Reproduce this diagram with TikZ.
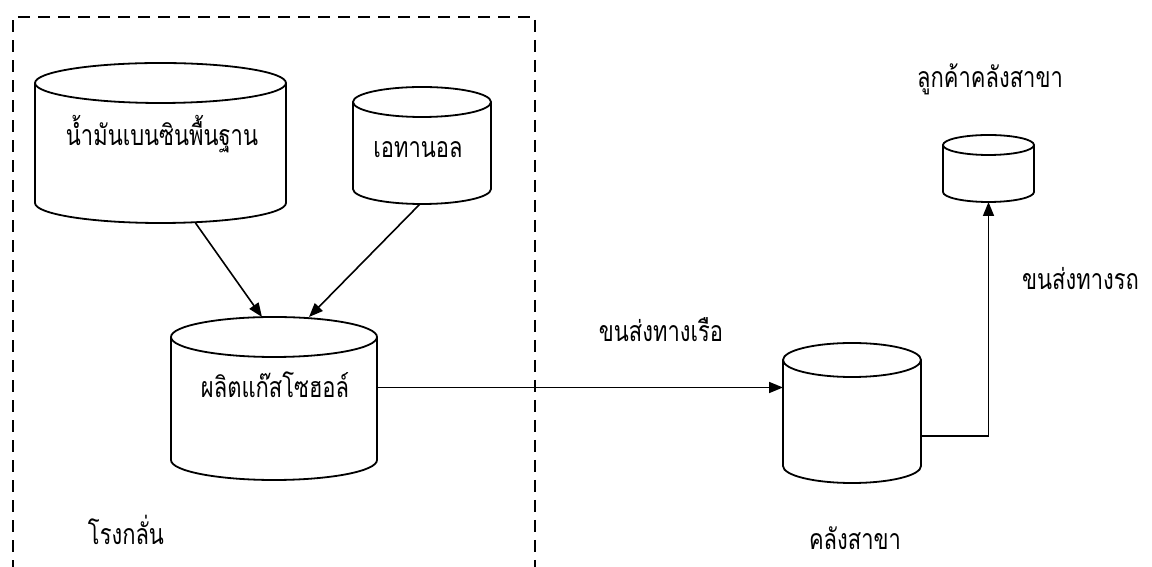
\documentclass[tikz,border=0pt]{standalone}
\usepackage{fontspec}
\newfontfamily\thaifont[Script=Thai,FakeStretch=0.77]{Loma}
\usetikzlibrary{arrows.meta,calc}
\tikzset{
  cylbox/.style={rectangle,inner sep=0pt,outer sep=0pt},
  cylline/.style={line width=1.8pt,black},
  lbl/.style={font=\thaifont\fontsize{28.5}{31}\selectfont,inner sep=0pt,anchor=base},
  conn/.style={line width=1.6pt,-{Triangle[length=14pt,width=11pt]}},
  frame/.style={line width=1.5pt,dash pattern=on 12pt off 8pt}
}
\newcommand\cylpaint[3]{%
  \draw[cylline] ([yshift=-#3]#1.north west) -- ([yshift=#3]#1.south west)
     arc[start angle=180,end angle=360,x radius=#2,y radius=#3]
     -- ([yshift=-#3]#1.north east);
  \draw[cylline] ([yshift=-#3]#1.north) ellipse [x radius=#2,y radius=#3];
}
\begin{document}
\begin{tikzpicture}[x=1pt,y=1pt]
\useasboundingbox[fill=white] (0,0) rectangle (1152,567);
% refinery frame
\draw[frame] (13,-5) -- (13,550) -- (535,550) -- (535,-5);
% cylinders
\node[cylbox,minimum width=251pt,minimum height=160pt] (B) at (160.5,424) {};
\node[cylbox,minimum width=138pt,minimum height=117pt] (E) at (422,421.5) {};
\node[cylbox,minimum width=206pt,minimum height=163pt] (P) at (274,168.5) {};
\node[cylbox,minimum width=138pt,minimum height=140pt] (W) at (852,154) {};
\node[cylbox,minimum width=91pt,minimum height=67pt] (C) at (988.5,398.5) {};
\cylpaint{B}{125.5pt}{20pt}
\cylpaint{E}{69pt}{15pt}
\cylpaint{P}{103pt}{20pt}
\cylpaint{W}{69pt}{17pt}
\cylpaint{C}{45.5pt}{10pt}
% labels
\node[lbl] (Bl) at (162,421) {น้ำมันเบนซินพื้นฐาน};
\node[lbl] (El) at (418,409) {เอทานอล};
\node[lbl] (Pl) at (275,169) {ผลิตแก๊สโซฮอล์};
\node[lbl] (Rl) at (126,22) {โรงกลั่น};
\node[lbl] (Sl) at (661,225) {ขนส่งทางเรือ};
\node[lbl] (Wl) at (855,17) {คลังสาขา};
\node[lbl] (Cl) at (990,479) {ลูกค้าคลังสาขา};
\node[lbl,anchor=base west] (Tl) at (1022,277) {ขนส่งทางรถ};
% connectors
\draw[conn] ([xshift=35pt]B.south) -- ([xshift=-12pt]P.north);
\draw[conn] ([xshift=-2pt]E.south) -- ([xshift=35pt]P.north);
\draw[conn] ([yshift=11pt]P.east) -- ([yshift=11pt]P.east -| W.west);
\draw[conn] ([yshift=-23pt]W.east) -| (C.south);
\end{tikzpicture}
\end{document}
